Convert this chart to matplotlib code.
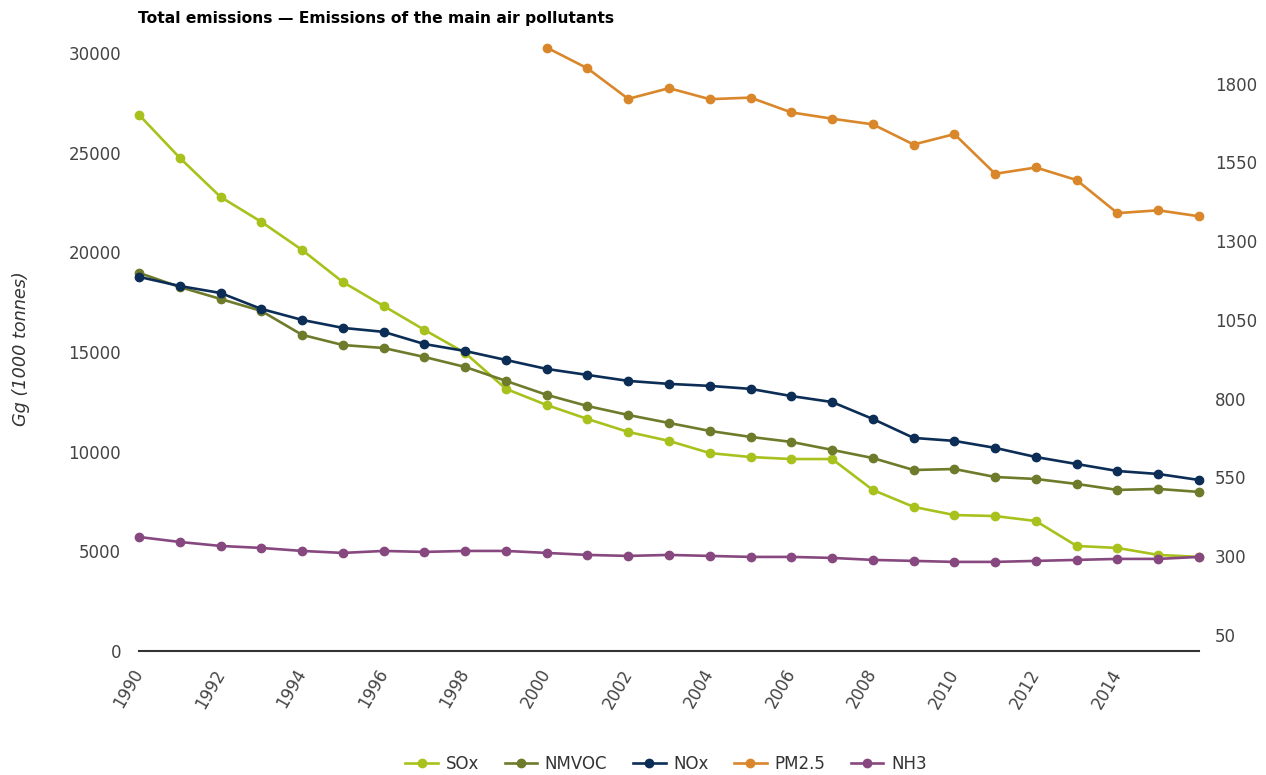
import matplotlib

matplotlib.use("Agg")
import matplotlib.pyplot as plt
from matplotlib.lines import Line2D

years = list(range(1990, 2017))

sox = [26900, 24740, 22780, 21530, 20120, 18510, 17310, 16110, 14950, 13150,
       12340, 11640, 10990, 10540, 9930, 9730, 9630, 9630, 8080, 7230,
       6820, 6770, 6520, 5270, 5170, 4820, 4720]
nmvoc = [18970, 18260, 17660, 17060, 15860, 15350, 15200, 14750, 14250, 13550,
         12850, 12290, 11840, 11440, 11040, 10740, 10490, 10090, 9680, 9080,
         9130, 8730, 8630, 8380, 8080, 8130, 7980]
nox = [18770, 18310, 17960, 17160, 16610, 16210, 16010, 15400, 15050, 14600,
       14150, 13850, 13550, 13400, 13300, 13150, 12790, 12490, 11640, 10690,
       10540, 10190, 9730, 9380, 9030, 8880, 8580]
nh3 = [5720, 5470, 5270, 5170, 5020, 4920, 5020, 4970, 5020, 5020,
       4920, 4820, 4770, 4820, 4770, 4720, 4720, 4670, 4570, 4520,
       4470, 4470, 4520, 4570, 4620, 4620, 4720]
pm25_years = list(range(2000, 2017))
pm25 = [1915, 1849, 1752, 1786, 1751, 1756, 1709, 1689, 1671, 1607,
        1640, 1514, 1534, 1494, 1389, 1398, 1379]

left_ticks = [0, 5000, 10000, 15000, 20000, 25000, 30000]
right_ticks = [50, 300, 550, 800, 1050, 1300, 1550, 1800]
x_ticks = list(range(1990, 2016, 2))

colors = {
    "SOx": "#a9c11c",
    "NMVOC": "#6e7b2b",
    "NOx": "#0b2d56",
    "PM2.5": "#d9872a",
    "NH3": "#86487f",
}

W, H = 1266, 775
fig = plt.figure(figsize=(W / 100, H / 100), dpi=100)
ax = fig.add_axes([139 / W, 1 - 651 / H, (1199 - 139) / W, (651 - 40) / H])
ax2 = ax.twinx()

style = dict(lw=1.9, marker="o", ms=6, clip_on=False)
ax.plot(years, sox, color=colors["SOx"], **style)
ax.plot(years, nmvoc, color=colors["NMVOC"], **style)
ax.plot(years, nox, color=colors["NOx"], **style)
ax2.plot(pm25_years, pm25, color=colors["PM2.5"], **style)
ax.plot(years, nh3, color=colors["NH3"], **style)

ax.set_xlim(1990, 2016)
ax.set_ylim(0, 30652)
ax2.set_ylim(-2, 1939)

tick_color = "#444444"
ax.set_yticks(left_ticks)
ax.set_yticklabels([str(t) for t in left_ticks])
ax2.set_yticks(right_ticks)
ax2.set_yticklabels([str(t) for t in right_ticks])
ax.set_xticks(x_ticks)
ax.set_xticklabels([str(t) for t in x_ticks], rotation=60, ha="right",
                   va="center", rotation_mode="anchor")

ax.tick_params(axis="y", length=0, pad=13, labelsize=12, labelcolor=tick_color)
ax2.tick_params(axis="y", length=0, pad=11.5, labelsize=12, labelcolor=tick_color)
ax.tick_params(axis="x", length=0, pad=14, labelsize=12, labelcolor=tick_color)

for a in (ax, ax2):
    for side in ("top", "left", "right", "bottom"):
        a.spines[side].set_visible(False)
ax.spines["bottom"].set_visible(True)
ax.spines["bottom"].set_color("#333333")
ax.spines["bottom"].set_linewidth(1.5)

fig.text(21 / W, 1 - 349 / H, "Gg (1000 tonnes)", fontstyle="italic", fontsize=12.7,
         color="#333333", rotation=90, ha="center", va="center")

fig.text(138 / W, 1 - 18 / H, "Total emissions \u2014 Emissions of the main air pollutants",
         fontsize=11.2, fontweight="bold", ha="left", va="center")

handles = [Line2D([0], [0], color=c, lw=1.9, marker="o", ms=6) for c in colors.values()]
fig.legend(handles, list(colors.keys()), loc="center", bbox_to_anchor=(666 / W, 1 - 764 / H),
           ncol=5, frameon=False, fontsize=12, handlelength=1.95, columnspacing=1.55,
           labelcolor="#333333", handletextpad=0.45)

fig.savefig("out.png", dpi=100)
